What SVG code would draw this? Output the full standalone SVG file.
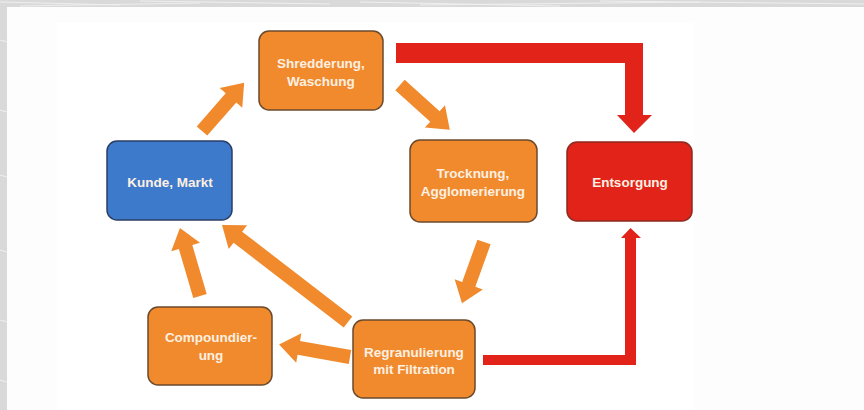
<svg xmlns="http://www.w3.org/2000/svg" width="864" height="410" viewBox="0 0 864 410">
<style>
.box{stroke:#6b4a2c;stroke-width:1.5}
.or{fill:#f08a2c}
.bl{fill:#3d7acb;stroke:#2a3f66}
.rd{fill:#e2231a;stroke:#8a2a20}
.t{font-family:"Liberation Sans",Arial,sans-serif;font-weight:bold;font-size:13.5px;fill:#fdf0e2;text-anchor:middle}
.oa{fill:#f08a2c}
.ra{fill:#e2231a}
.tex{stroke:#efefef;stroke-width:1;fill:none}
</style>
<rect width="864" height="410" fill="#fdfdfd"/>
<rect x="57" y="23" width="637" height="387" fill="#ffffff"/>
<g id="texture">
<rect x="0" y="0" width="864" height="7" fill="#d9d9d9"/>
<rect x="0" y="0" width="7" height="410" fill="#d9d9d9"/>
<path class="tex" d="M0,2 L120,5 M140,1 L330,4 M360,2 L560,6 M600,1 L864,4 M20,6 L200,3 M420,5 L700,2 M0,40 L7,42 M0,110 L7,112 M0,175 L7,177 M0,250 L7,252 M0,320 L7,322 M0,380 L7,382"/>
</g>
<g id="connectors">
<path class="ra" d="M396,43 H643 V115 H652 L634,133 L617,115 H625 V63 H396 Z"/>
<path class="ra" d="M483,355 H625 V238 H621 L630.5,228 L641,238 H636 V365 H483 Z"/>
<g class="oa">
<polygon transform="translate(202,131) rotate(-48.8)" points="0,-7 44,-7 44,-15 64,0 44,15 44,7 0,7"/>
<polygon transform="translate(400,85) rotate(42)" points="0,-7 47,-7 47,-15 67,0 47,15 47,7 0,7"/>
<polygon transform="translate(484,242) rotate(109.8)" points="0,-7 45,-7 45,-15 65,0 45,15 45,7 0,7"/>
<polygon transform="translate(348,322) rotate(-142.4)" points="0,-7 139,-7 139,-15 159,0 139,15 139,7 0,7"/>
<polygon transform="translate(350,357) rotate(-170)" points="0,-7 52,-7 52,-15 72,0 52,15 52,7 0,7"/>
<polygon transform="translate(200,296) rotate(-106.4)" points="0,-7 51,-7 51,-15 71,0 51,15 51,7 0,7"/>
</g>
</g>
<g id="shredderung">
<rect class="box or" x="259" y="31" width="124" height="79" rx="10"/>
<text class="t" x="321" y="68">Shredderung,</text>
<text class="t" x="321" y="86">Waschung</text>
</g>
<g id="kunde">
<rect class="box bl" x="107" y="141" width="125" height="79" rx="10"/>
<text class="t" x="170" y="187" fill="#eef3fb">Kunde, Markt</text>
</g>
<g id="trocknung">
<rect class="box or" x="410" y="140" width="127" height="82" rx="10"/>
<text class="t" x="473" y="178">Trocknung,</text>
<text class="t" x="473" y="196">Agglomerierung</text>
</g>
<g id="entsorgung">
<rect class="box rd" x="567" y="142" width="125" height="79" rx="10"/>
<text class="t" x="630" y="187">Entsorgung</text>
</g>
<g id="compoundierung">
<rect class="box or" x="148" y="307" width="124" height="78" rx="10"/>
<text class="t" x="211" y="342">Compoundier-</text>
<text class="t" x="211" y="360">ung</text>
</g>
<g id="regranulierung">
<rect class="box or" x="353" y="320" width="122" height="78" rx="10"/>
<text class="t" x="414" y="357">Regranulierung</text>
<text class="t" x="414" y="374">mit Filtration</text>
</g>
</svg>
